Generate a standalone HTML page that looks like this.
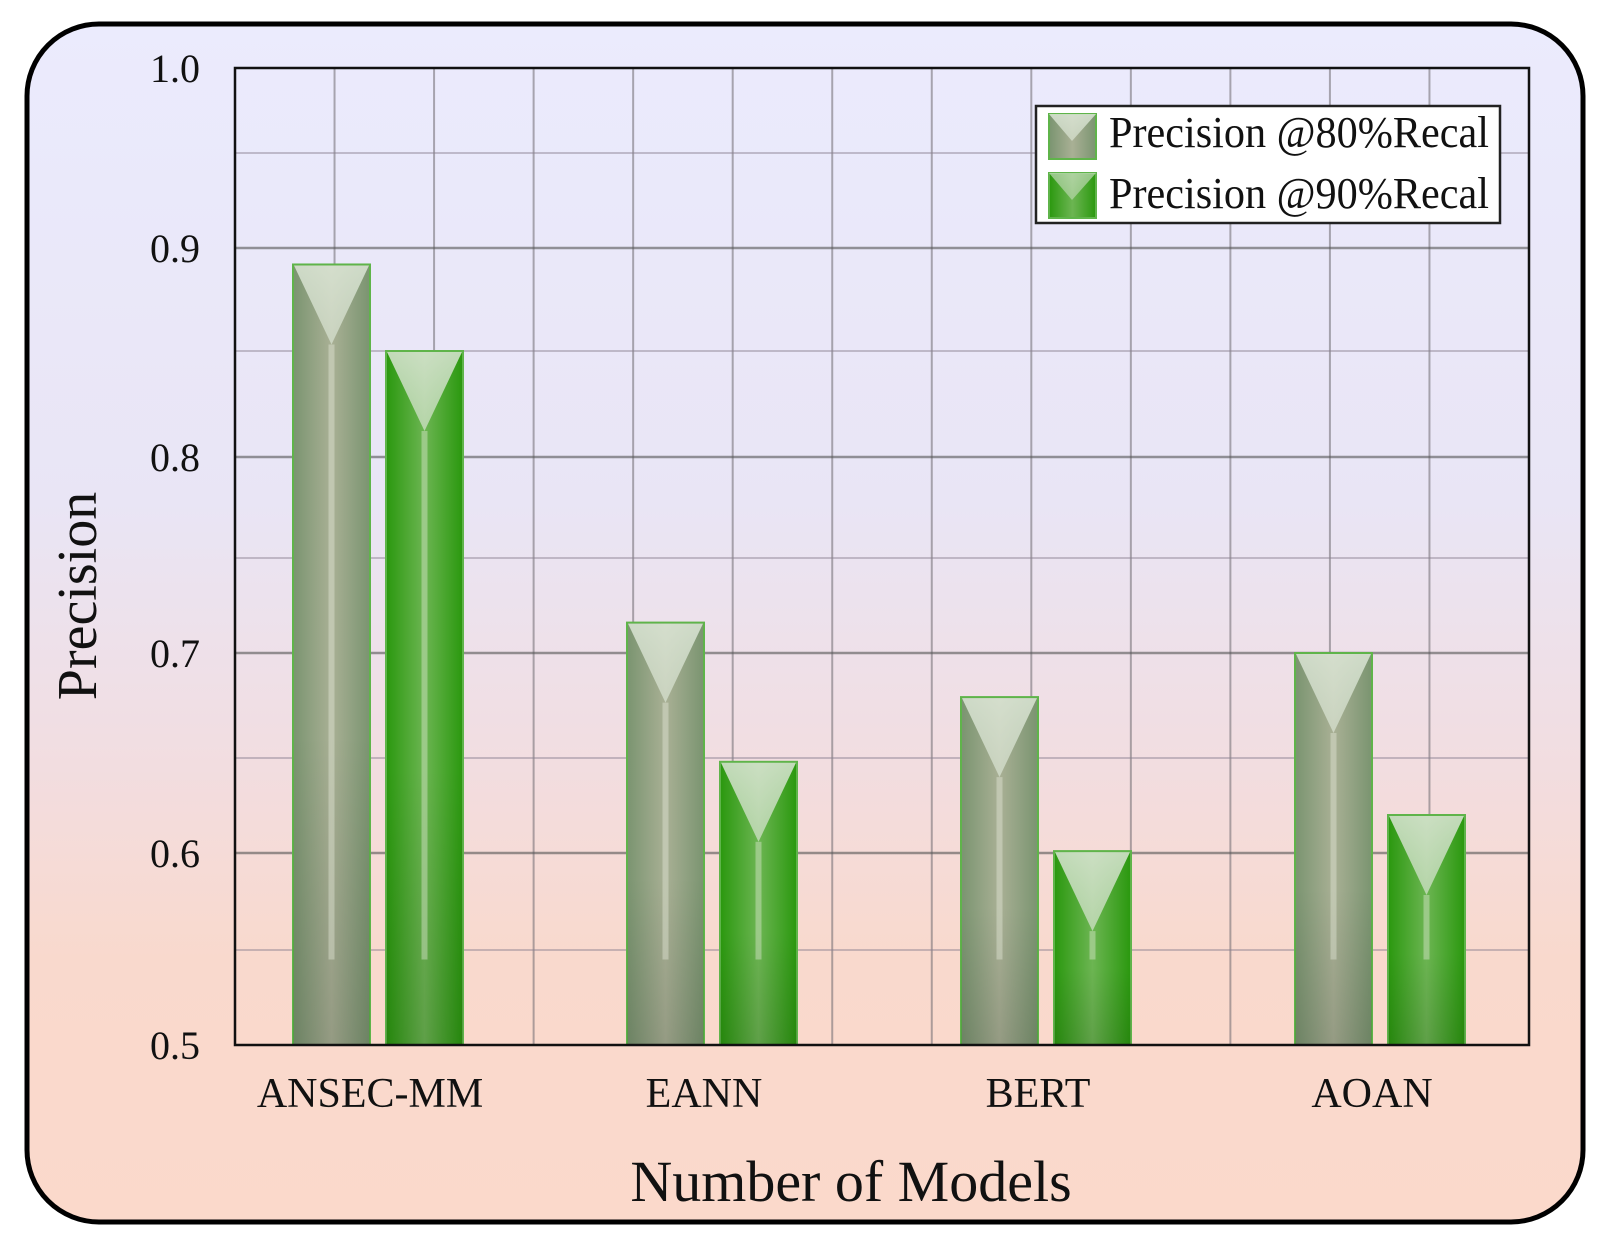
<!DOCTYPE html>
<html><head><meta charset="utf-8"><style>
html,body{margin:0;padding:0;background:#fff;}
svg{display:block;}
text{font-family:"Liberation Serif","DejaVu Serif",serif;fill:#111;}
</style></head>
<body>
<svg id="chart" width="1618" height="1250" viewBox="0 0 1618 1250">
<defs>
<linearGradient id="bg" x1="0" y1="0" x2="0" y2="1">
<stop offset="0" stop-color="#ebebfd"/><stop offset="0.4" stop-color="#e9e5f5"/><stop offset="0.62" stop-color="#f2dde0"/><stop offset="0.78" stop-color="#f9d9cd"/><stop offset="1" stop-color="#fbd9cb"/>
</linearGradient>
<linearGradient id="gH" x1="0" y1="0" x2="1" y2="0">
<stop offset="0" stop-color="#7a9470"/><stop offset="0.5" stop-color="#a9b095"/><stop offset="1" stop-color="#7a9470"/>
</linearGradient>
<linearGradient id="grH" x1="0" y1="0" x2="1" y2="0">
<stop offset="0" stop-color="#2a980e"/><stop offset="0.5" stop-color="#6cb552"/><stop offset="1" stop-color="#2a980e"/>
</linearGradient>
<linearGradient id="shadeV" x1="0" y1="0" x2="0" y2="1">
<stop offset="0" stop-color="#000" stop-opacity="0"/><stop offset="0.6" stop-color="#000" stop-opacity="0"/><stop offset="1" stop-color="#000" stop-opacity="0.12"/>
</linearGradient>
<linearGradient id="triG" x1="0" y1="0" x2="0" y2="1">
<stop offset="0" stop-color="#dce6d6" stop-opacity="0.85"/><stop offset="1" stop-color="#dce6d6" stop-opacity="0.65"/>
</linearGradient>
</defs>
<rect x="27" y="24" width="1556" height="1198" rx="72" fill="url(#bg)" stroke="#000" stroke-width="5"/>
<g id="grid"></g>
<g id="bars"></g>
<rect x="235" y="68" width="1294" height="977" fill="none" stroke="#111" stroke-width="2.5"/>
<g id="yticks"></g>
<g id="xlabels"></g>
<text x="96" y="596" font-size="56" text-anchor="middle" transform="rotate(-90 96 596)">Precision</text>
<text x="851" y="1201" font-size="58" text-anchor="middle">Number of Models</text>
<g>
<rect x="1036" y="106" width="464" height="117" fill="#fff" stroke="#222" stroke-width="2.5"/>
<g>
<rect x="1049" y="114" width="47" height="45" fill="url(#gH)" stroke="#5fb44a" stroke-width="2"/>
<polygon points="1049,114 1096,114 1072,141" fill="url(#triG)"/>
<text x="1109" y="147" font-size="44" textLength="380" lengthAdjust="spacingAndGlyphs">Precision @80%Recal</text>
</g>
<g>
<rect x="1049" y="173" width="47" height="45" fill="url(#grH)" stroke="#5fb44a" stroke-width="2"/>
<polygon points="1049,173 1096,173 1072,200" fill="url(#triG)" opacity="0.7"/>
<text x="1109" y="208" font-size="44" textLength="380" lengthAdjust="spacingAndGlyphs">Precision @90%Recal</text>
</g>
</g>
</svg>
<script>
const categories = ["ANSEC-MM","EANN","BERT","AOAN"];
const series80 = [0.892, 0.716, 0.679, 0.700];
const series90 = [0.850, 0.648, 0.601, 0.620];
const yTickLabels = ["1.0","0.9","0.8","0.7","0.6","0.5"];
const yTickValues = [1.0,0.9,0.8,0.7,0.6,0.5];

const NS="http://www.w3.org/2000/svg";
const plotL=235, plotR=1529, plotT=68, plotB=1045;
const calV=[1.0,0.95,0.9,0.85,0.8,0.75,0.7,0.65,0.6,0.55,0.5];
const calP=[68,153,248,351,457,558,653,758,853,950,1045];
function y(v){
  if(v>=calV[0]) return calP[0];
  for(let i=0;i<calV.length-1;i++){
    if(v<=calV[i]&&v>=calV[i+1]){
      const t=(calV[i]-v)/(calV[i]-calV[i+1]);
      return calP[i]+t*(calP[i+1]-calP[i]);
    }
  }
  return calP[calP.length-1];
}
const firstCenter=378, step=334;
function xc(i){return firstCenter+step*i;}
function mk(tag,attrs,parent){const e=document.createElementNS(NS,tag);for(const k in attrs)e.setAttribute(k,attrs[k]);parent.appendChild(e);return e;}

const grid=document.getElementById('grid');
for(let i=1;i<13;i++){
  const gx=plotL+i*(plotR-plotL)/13;
  const l=mk('line',{x1:gx,x2:gx,y1:plotT,y2:plotB,stroke:'#6e6a70','stroke-width':2,opacity:0.55},grid);
  
  
}
calV.forEach((v,i)=>{
  if(i===0||i===calV.length-1)return;
  const major=Math.abs(v*10-Math.round(v*10))<1e-6;
  const l=mk('line',{x1:plotL,x2:plotR,y1:y(v),y2:y(v),stroke:major?'#555':'#8a8090','stroke-width':major?2.5:2,opacity:major?0.6:0.45},grid);
  
  
});

const yt=document.getElementById('yticks');
yTickValues.forEach((v,i)=>{
  const t=mk('text',{x:200,y:y(v)+14,'font-size':40,'text-anchor':'end'},yt);
  t.textContent=yTickLabels[i];
  
  
});

const xl=document.getElementById('xlabels');
categories.forEach((c,i)=>{
  const t=mk('text',{x:xc(i)-8,y:1107,'font-size':42,'text-anchor':'middle'},xl);
  t.textContent=c;
  
  
});

const bars=document.getElementById('bars');
const bw=77, gap=16;
function drawBar(x,v,fill,name){
  const top=y(v), h=plotB-top;
  const g=mk('g',{},bars);
  
  
  mk('rect',{x:x,y:top,width:bw,height:h,fill:fill,stroke:'#5fb44a','stroke-width':2},g);
  mk('rect',{x:x,y:top,width:bw,height:h,fill:'url(#shadeV)'},g);
  const tip=top+80;
  mk('polygon',{points:`${x+1},${top+1} ${x+bw-1},${top+1} ${x+bw/2},${tip}`,fill:'url(#triG)'},g);
  const sb=y(0.545);
  if(sb>tip) mk('rect',{x:x+bw/2-3,y:tip,width:6,height:sb-tip,fill:'#e6ecdc',opacity:0.4},g);
}
categories.forEach((c,i)=>{
  const cx=xc(i);
  drawBar(cx-gap/2-bw,series80[i],'url(#gH)','bar-80-'+c.toLowerCase());
  drawBar(cx+gap/2,series90[i],'url(#grH)','bar-90-'+c.toLowerCase());
});
</script>
</body></html>
